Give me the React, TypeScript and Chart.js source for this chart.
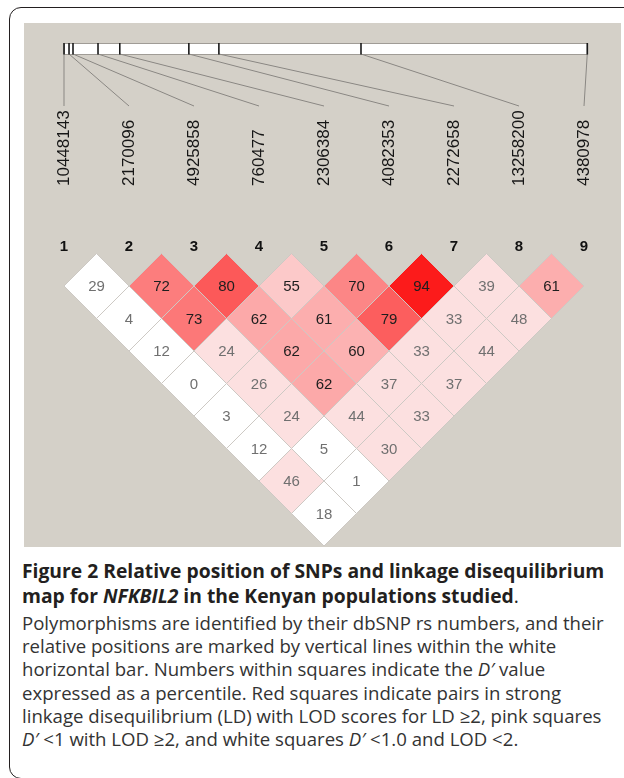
import React, { useEffect, useRef } from "react";
import { Chart, registerables } from "chart.js";

Chart.register(...registerables);

// ---- data ----
const snpNames = ["10448143", "2170096", "4925858", "760477", "2306384", "4082353", "2272658", "13258200", "4380978"];
// relative physical positions along the white bar (arbitrary units, 0..10000)
const snpPositions = [0, 96, 172, 650, 1066, 2386, 2960, 5676, 10000];
// D' (%) by distance between markers: row k holds pairs (i, i+k)
const dprimeRows = [
  [29, 72, 80, 55, 70, 94, 39, 61],
  [4, 73, 62, 61, 79, 33, 48],
  [12, 24, 62, 60, 33, 44],
  [0, 26, 62, 37, 37],
  [3, 24, 44, 33],
  [12, 5, 30],
  [46, 1],
  [18],
];
// LOD >= 2 flags, same layout
const lodHighRows = [
  [0, 1, 1, 1, 1, 1, 1, 1],
  [0, 1, 1, 1, 1, 1, 1],
  [0, 1, 1, 1, 1, 1],
  [0, 1, 1, 1, 1],
  [0, 1, 1, 1],
  [0, 0, 1],
  [1, 0],
  [0],
];

function cellColor(d: number, lod: number) {
  if (!lod) return "#ffffff";
  const gb = Math.round(Math.min(224, 446 * (1 - d / 100)));
  return `rgb(252,${gb},${gb})`;
}

const points: any[] = [];
dprimeRows.forEach((row, k) => {
  row.forEach((d, i) => {
    const a = i + 1;
    const b = i + 2 + k;
    points.push({ x: (a + b) / 2, y: k + 1, d, lod: lodHighRows[k][i] });
  });
});

const W = 597;
const H = 524;

const decorPlugin = {
  id: "decor",
  afterDatasetsDraw(chart: any) {
    const ctx = chart.ctx;
    const xs = chart.scales.x;
    const ys = chart.scales.y;
    const top = chart.chartArea.top;
    ctx.save();
    // bar
    const bx0 = xs.getPixelForValue(1);
    const bx1 = xs.getPixelForValue(9.05);
    const barTop = top + 20;
    const barBot = top + 31;
    ctx.fillStyle = "#ffffff";
    ctx.fillRect(bx0, barTop, bx1 - bx0, barBot - barTop);
    ctx.strokeStyle = "#a09c96";
    ctx.lineWidth = 1;
    ctx.strokeRect(bx0 + 0.5, barTop + 0.5, bx1 - bx0, barBot - barTop);
    const maxPos = snpPositions[snpPositions.length - 1];
    snpPositions.forEach((p, i) => {
      const tx = bx0 + (p / maxPos) * (bx1 - bx0);
      const cx = xs.getPixelForValue(i + 1);
      ctx.strokeStyle = "#8a8783";
      ctx.lineWidth = 1;
      ctx.beginPath();
      ctx.moveTo(tx, barBot);
      ctx.lineTo(cx, top + 83);
      ctx.stroke();
      ctx.strokeStyle = "#1a1a1a";
      ctx.lineWidth = 1.6;
      ctx.beginPath();
      ctx.moveTo(tx, barTop);
      ctx.lineTo(tx, barBot + 0.5);
      ctx.stroke();
      // rotated labels
      ctx.save();
      ctx.translate(cx, top + 163);
      ctx.rotate(-Math.PI / 2);
      ctx.fillStyle = "#161616";
      ctx.font = '17px "Liberation Sans", Arial, sans-serif';
      ctx.textAlign = "left";
      ctx.textBaseline = "middle";
      ctx.fillText(snpNames[i], 0, 0);
      ctx.restore();
      // column numbers
      ctx.fillStyle = "#111";
      ctx.font = 'bold 15px "Liberation Sans", Arial, sans-serif';
      ctx.textAlign = "center";
      ctx.textBaseline = "middle";
      ctx.fillText(String(i + 1), cx, ys.getPixelForValue(-0.2));
    });
    // cell values
    const meta = chart.getDatasetMeta(0);
    ctx.font = '15px "Liberation Sans", Arial, sans-serif';
    ctx.textAlign = "center";
    ctx.textBaseline = "middle";
    meta.data.forEach((el: any, idx: number) => {
      const p = points[idx];
      ctx.fillStyle = p.lod && p.d >= 50 ? "#1e1e1e" : "#707070";
      ctx.fillText(String(p.d), el.x, el.y + 1);
    });
    ctx.restore();
  },
};

function LDChart() {
  const ref = useRef<HTMLCanvasElement>(null);
  useEffect(() => {
    if (!ref.current) return;
    const radius = (c: any) => {
      const s = c.chart.scales.x;
      return Math.abs(s.getPixelForValue(1.5) - s.getPixelForValue(1));
    };
    const chart = new Chart(ref.current, {
      type: "scatter",
      data: {
        datasets: [
          {
            data: points,
            pointStyle: "rectRot",
            pointRadius: radius,
            pointHoverRadius: radius,
            backgroundColor: (c: any) => {
              const p = c.raw;
              return p ? cellColor(p.d, p.lod) : "#fff";
            },
            borderColor: "#cdc9c4",
            borderWidth: 1,
          } as any,
        ],
      },
      options: {
        animation: false,
        responsive: false,
        events: [],
        layout: { padding: 0 },
        plugins: { legend: { display: false }, tooltip: { enabled: false } },
        scales: {
          x: { type: "linear", display: false, min: 1 - 40 / 65, max: 1 - 40 / 65 + W / 65 },
          y: { type: "linear", display: false, reverse: true, min: 1 - 263 / 32.5, max: 1 - 263 / 32.5 + H / 32.5 },
        },
      },
      plugins: [decorPlugin],
    });
    return () => chart.destroy();
  }, []);
  return <canvas ref={ref} width={W} height={H} style={{ display: "block", width: W, height: H, background: "#d4d0c8" }} />;
}

const capFont = '"Open Sans", "Noto Sans", sans-serif';

export default function App() {
  const bodyLines: React.ReactNode[] = [
    <>Polymorphisms are identified by their dbSNP rs numbers, and their</>,
    <>relative positions are marked by vertical lines within the white</>,
    <>horizontal bar. Numbers within squares indicate the <i>D′</i> value</>,
    <>expressed as a percentile. Red squares indicate pairs in strong</>,
    <>linkage disequilibrium (LD) with LOD scores for LD ≥2, pink squares</>,
    <><i>D′</i> &lt;1 with LOD ≥2, and white squares <i>D′</i> &lt;1.0 and LOD &lt;2.</>,
  ];
  return (
    <div style={{ position: "absolute", left: 0, top: 0, width: 624, height: 778, overflow: "hidden", background: "#fff" }}>
      <div
        style={{
          position: "absolute",
          left: 9,
          top: 7,
          width: 700,
          height: 772,
          border: "1.5px solid #231f20",
          borderRadius: 12,
          boxSizing: "border-box",
        }}
      />
      <div style={{ position: "absolute", left: 24, top: 23 }}>
        <LDChart />
      </div>
      <div style={{ position: "absolute", left: 22, top: 558, fontFamily: capFont, fontWeight: 700, fontSize: 19.3, lineHeight: "25px", color: "#231f20", whiteSpace: "nowrap" }}>
        <div>Figure 2 Relative position of SNPs and linkage disequilibrium</div>
        <div>
          map for <i>NFKBIL2</i> in the Kenyan populations studied<span style={{ fontWeight: 400 }}>.</span>
        </div>
      </div>
      <div style={{ position: "absolute", left: 22, top: 611, fontFamily: capFont, fontSize: 18.6, lineHeight: "23.2px", color: "#333", whiteSpace: "nowrap" }}>
        {bodyLines.map((l, i) => (
          <div key={i}>{l}</div>
        ))}
      </div>
    </div>
  );
}
